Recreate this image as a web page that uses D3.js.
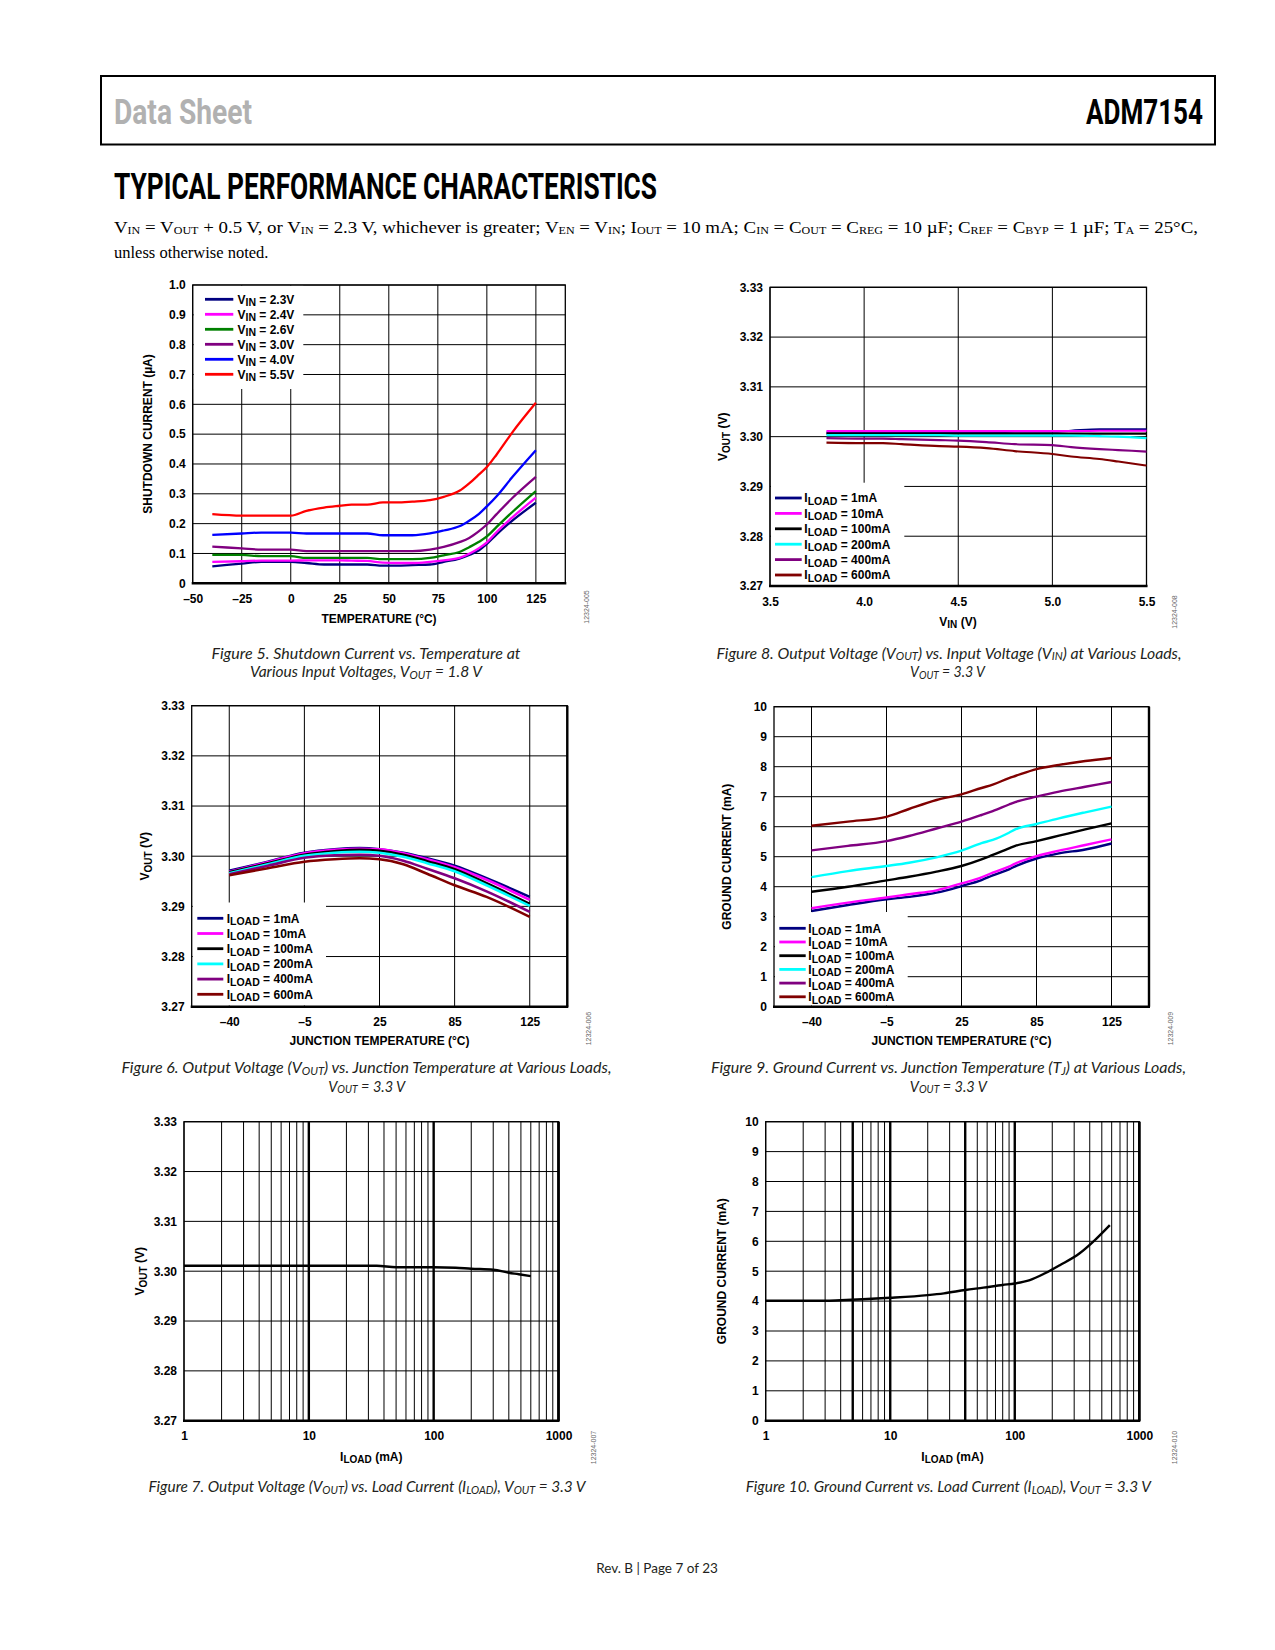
<!DOCTYPE html>
<html>
<head>
<meta charset="utf-8">
<script src="https://cdn.jsdelivr.net/npm/d3@7"></script>
<style>
  body { margin: 0; background: #fff; }
  svg { display: block; }
</style>
</head>
<body>
<svg id="page" width="1275" height="1650"></svg>
<script>
// ---------- data ----------

// Figure 5: shutdown current vs temperature
const vinLabels = ["V_{IN} = 2.3V", "V_{IN} = 2.4V", "V_{IN} = 2.6V", "V_{IN} = 3.0V", "V_{IN} = 4.0V", "V_{IN} = 5.5V"];
const vinColors = ["#000080", "#ff00ff", "#008000", "#800080", "#0000ff", "#ff0000"];
const temp5 = [-40, -25, -15, 0, 8, 17, 25, 31, 39, 47, 54, 62, 71, 78, 86, 91, 96, 100, 105, 113, 125];
const isd23 = [.057, .066, .072, .072, .068, .063, .063, .063, .063, .059, .059, .061, .063, .072, .083, .095, .111, .132, .164, .210, .270];
const isd24 = [.072, .074, .076, .076, .077, .077, .077, .076, .075, .069, .068, .068, .072, .077, .085, .099, .118, .137, .172, .221, .287];
const isd26 = [.095, .095, .091, .091, .085, .085, .085, .085, .085, .081, .081, .081, .085, .094, .105, .121, .139, .157, .189, .239, .309];
const isd30 = [.123, .117, .113, .113, .108, .108, .108, .108, .108, .108, .108, .108, .113, .122, .138, .152, .175, .197, .232, .286, .357];
const isd40 = [.162, .167, .170, .170, .167, .167, .167, .167, .167, .161, .161, .161, .167, .177, .191, .210, .233, .258, .292, .356, .446];
const isd55 = [.232, .227, .227, .227, .243, .254, .260, .264, .264, .271, .271, .274, .279, .290, .310, .335, .365, .390, .432, .506, .605];
const tempTicks5 = [-50, -25, 0, 25, 50, 75, 100, 125];
const isdTicks = [0, 0.1, 0.2, 0.3, 0.4, 0.5, 0.6, 0.7, 0.8, 0.9, 1.0];

// load legend shared by figures 6, 8, 9
const loadLabels = ["I_{LOAD} = 1mA", "I_{LOAD} = 10mA", "I_{LOAD} = 100mA", "I_{LOAD} = 200mA", "I_{LOAD} = 400mA", "I_{LOAD} = 600mA"];
const loadColors = ["#000080", "#ff00ff", "#000000", "#00ffff", "#800080", "#800000"];
const voutTicks = [3.27, 3.28, 3.29, 3.30, 3.31, 3.32, 3.33];

// Figure 8: VOUT vs VIN
const vin8 = [3.8, 4.0, 4.1, 4.2, 4.4, 4.5, 4.65, 4.8, 5.0, 5.1, 5.25, 5.35, 5.5];
const vout8_1 = [3.3008, 3.3008, 3.3008, 3.3008, 3.3009, 3.3009, 3.3009, 3.3010, 3.3010, 3.3012, 3.3015, 3.3015, 3.3015];
const vout8_10 = [3.3011, 3.3011, 3.3011, 3.3011, 3.3011, 3.3011, 3.3011, 3.3011, 3.3011, 3.3011, 3.3012, 3.3012, 3.3012];
const vout8_100 = [3.3006, 3.3006, 3.3006, 3.3006, 3.3006, 3.3006, 3.3006, 3.3006, 3.3006, 3.3006, 3.3006, 3.3006, 3.3006];
const vout8_200 = [3.3003, 3.3003, 3.3003, 3.3003, 3.3003, 3.3002, 3.3002, 3.3002, 3.3002, 3.3002, 3.3001, 3.3000, 3.2997];
const vout8_400 = [3.2997, 3.2996, 3.2996, 3.2995, 3.2993, 3.2992, 3.2989, 3.2985, 3.2983, 3.2979, 3.2975, 3.2973, 3.2970];
const vout8_600 = [3.2988, 3.2987, 3.2987, 3.2985, 3.2981, 3.2980, 3.2977, 3.2971, 3.2965, 3.2960, 3.2955, 3.2950, 3.2942];
const vinTicks = [3.5, 4.0, 4.5, 5.0, 5.5];

// Figure 6: VOUT vs junction temperature
const juncTicks = [-40, -5, 25, 85, 125];
const temp6 = [-40, -22, -5, 7, 17, 25, 44, 63, 85, 102, 125];
const vout6_1 = [3.2971, 3.2989, 3.3007, 3.3014, 3.3016, 3.3014, 3.3007, 3.2996, 3.2981, 3.2956, 3.2919];
const vout6_10 = [3.2969, 3.2988, 3.3006, 3.3013, 3.3015, 3.3014, 3.3006, 3.2994, 3.2978, 3.2953, 3.2913];
const vout6_100 = [3.2968, 3.2986, 3.3003, 3.3010, 3.3013, 3.3011, 3.3003, 3.2990, 3.2974, 3.2946, 3.2905];
const vout6_200 = [3.2966, 3.2984, 3.3001, 3.3007, 3.3009, 3.3007, 3.2999, 3.2986, 3.2970, 3.2942, 3.2901];
const vout6_400 = [3.2964, 3.2981, 3.2997, 3.3002, 3.3003, 3.3001, 3.2991, 3.2975, 3.2956, 3.2930, 3.2889];
const vout6_600 = [3.2962, 3.2976, 3.2989, 3.2994, 3.2996, 3.2994, 3.2984, 3.2965, 3.2942, 3.2919, 3.2879];

// Figure 9: ground current vs junction temperature
const temp9 = [-40, -23, -5, 4, 15, 25, 41, 50, 63, 68, 85, 97, 111, 125];
const ignd9_1 = [3.19, 3.39, 3.58, 3.66, 3.80, 4.02, 4.22, 4.38, 4.58, 4.68, 4.94, 5.11, 5.24, 5.44];
const ignd9_10 = [3.28, 3.47, 3.64, 3.75, 3.88, 4.11, 4.31, 4.47, 4.67, 4.77, 5.02, 5.20, 5.39, 5.58];
const ignd9_100 = [3.83, 4.00, 4.21, 4.33, 4.50, 4.69, 4.91, 5.06, 5.28, 5.36, 5.52, 5.70, 5.91, 6.11];
const ignd9_200 = [4.32, 4.52, 4.69, 4.80, 4.98, 5.20, 5.45, 5.56, 5.80, 5.91, 6.09, 6.28, 6.48, 6.67];
const ignd9_400 = [5.21, 5.36, 5.52, 5.69, 5.94, 6.17, 6.39, 6.52, 6.74, 6.82, 7.00, 7.17, 7.33, 7.49];
const ignd9_600 = [6.03, 6.17, 6.33, 6.59, 6.89, 7.08, 7.29, 7.40, 7.62, 7.69, 7.92, 8.06, 8.19, 8.29];
const gndTicks = [0, 1, 2, 3, 4, 5, 6, 7, 8, 9, 10];

// Figure 7: VOUT vs load current
const load7 = [1, 10, 35, 50, 100, 150, 200, 300, 400, 480, 600];
const vout7 = [3.3011, 3.3011, 3.3011, 3.3008, 3.3008, 3.3007, 3.3005, 3.3003, 3.2997, 3.2994, 3.2990];

// Figure 10: ground current vs load current
const load10 = [1, 3, 4, 6, 10, 20, 27, 40, 56, 80, 100, 132, 175, 230, 330, 440, 580];
const ignd10 = [4.01, 4.01, 4.03, 4.06, 4.11, 4.20, 4.26, 4.37, 4.45, 4.54, 4.59, 4.70, 4.93, 5.20, 5.59, 6.04, 6.54];
const loadTicks = [1, 10, 100, 1000];

// ---------- drawing ----------
const FONT = "'Liberation Sans', Arial, sans-serif";
const svg = d3.select("#page");
svg.append("rect").attr("width", 1275).attr("height", 1650).attr("fill", "#fff");

// text with _{sub} pieces
function rich(text, str, subSize, subDy) {
  const parts = str.split(/(_\{[^}]*\})/).filter((s) => s.length);
  let shifted = false;
  parts.forEach((p) => {
    if (p.startsWith("_{")) {
      text.append("tspan").attr("font-size", subSize).attr("dy", subDy).text(p.slice(2, -1));
      shifted = true;
    } else {
      const t = text.append("tspan").text(p);
      if (shifted) t.attr("dy", -subDy);
      shifted = false;
    }
  });
  return text;
}

const tempFmt = (d) => (d < 0 ? "\u2013" + Math.abs(d) : String(d));

function drawChart(c) {
  const g = svg.append("g");
  const { x, y, left, right, top, bottom } = c;

  // grid
  g.append("g")
    .selectAll("line")
    .data(c.xGrid)
    .join("line")
    .attr("x1", (d) => x(d))
    .attr("x2", (d) => x(d))
    .attr("y1", top)
    .attr("y2", bottom)
    .attr("stroke", "#000")
    .attr("stroke-width", (d) => (c.thickGrid && c.thickGrid.includes(d) ? 2.4 : 1));
  g.append("g")
    .selectAll("line")
    .data(c.yTicks)
    .join("line")
    .attr("x1", left)
    .attr("x2", right)
    .attr("y1", (d) => y(d))
    .attr("y2", (d) => y(d))
    .attr("stroke", "#000")
    .attr("stroke-width", 1);

  // legend background hides the grid
  if (c.legend) {
    const L = c.legend;
    g.append("rect")
      .attr("x", left + 1)
      .attr("y", L.top)
      .attr("width", L.right - left - 1)
      .attr("height", L.bottom - L.top)
      .attr("fill", "#fff");
  }

  // frame
  g.append("rect")
    .attr("x", left)
    .attr("y", top)
    .attr("width", right - left)
    .attr("height", bottom - top)
    .attr("fill", "none")
    .attr("stroke", "#000")
    .attr("stroke-width", 1.3);
  g.append("line")
    .attr("x1", left - 1)
    .attr("x2", right + 1)
    .attr("y1", bottom)
    .attr("y2", bottom)
    .attr("stroke", "#000")
    .attr("stroke-width", 2.6);
  if (c.thickRight) {
    g.append("line")
      .attr("x1", right)
      .attr("x2", right)
      .attr("y1", top)
      .attr("y2", bottom)
      .attr("stroke", "#000")
      .attr("stroke-width", 2.4);
  }

  // curves
  const line = d3
    .line()
    .x((d) => x(d[0]))
    .y((d) => y(d[1]))
    .curve(d3.curveMonotoneX);
  g.append("g")
    .selectAll("path")
    .data(c.series)
    .join("path")
    .attr("d", (s) => line(d3.zip(s.xs, s.ys)))
    .attr("fill", "none")
    .attr("stroke", (s) => s.color)
    .attr("stroke-width", c.lineWidth || 2.3)
    .attr("stroke-linejoin", "round");

  // legend entries
  if (c.legend) {
    const L = c.legend;
    const rows = g
      .append("g")
      .selectAll("g")
      .data(c.series)
      .join("g")
      .attr("transform", (s, i) => `translate(0,${L.row0 + i * L.step})`);
    rows
      .append("line")
      .attr("x1", L.lineX0)
      .attr("x2", L.lineX1)
      .attr("stroke", (s) => s.color)
      .attr("stroke-width", 2.8);
    rows.each(function (s) {
      const t = d3
        .select(this)
        .append("text")
        .attr("x", L.textX)
        .attr("y", 4.3)
        .attr("font-family", FONT)
        .attr("font-weight", "bold")
        .attr("font-size", 12)
        .attr("fill", "#000");
      rich(t, s.label, 10.5, 2.6);
    });
  }

  // axes (labels only)
  const styleAxis = (a) => {
    a.select(".domain").remove();
    a.attr("font-family", FONT).attr("font-size", 12).attr("font-weight", "bold");
    a.selectAll("text").attr("fill", "#000");
  };
  g.append("g")
    .attr("transform", `translate(0,${bottom})`)
    .call(d3.axisBottom(x).tickValues(c.xTicks).tickFormat(c.xFmt).tickSize(0).tickPadding(11))
    .call(styleAxis);
  g.append("g")
    .attr("transform", `translate(${left},0)`)
    .call(d3.axisLeft(y).tickValues(c.yTicks).tickFormat(c.yFmt).tickSize(0).tickPadding(7))
    .call(styleAxis);

  // axis titles
  const xt = g
    .append("text")
    .attr("x", c.xTitle.x)
    .attr("y", c.xTitle.y)
    .attr("text-anchor", "middle")
    .attr("font-family", FONT)
    .attr("font-weight", "bold")
    .attr("font-size", 12);
  rich(xt, c.xTitle.text, 10, 2.6);
  const yt = g
    .append("text")
    .attr("transform", `translate(${c.yTitle.x},${c.yTitle.y}) rotate(-90)`)
    .attr("dy", "0.35em")
    .attr("text-anchor", "middle")
    .attr("font-family", FONT)
    .attr("font-weight", "bold")
    .attr("font-size", 12);
  rich(yt, c.yTitle.text, 10, 2.6);

  // small figure id on the right
  g.append("text")
    .attr("transform", `translate(${c.id.x},${c.id.y}) rotate(-90)`)
    .attr("text-anchor", "middle")
    .attr("dy", "0.35em")
    .attr("font-family", FONT)
    .attr("font-size", 7)
    .attr("fill", "#666")
    .text(c.id.text);

  // caption lines
  c.caption.forEach((cap) => {
    const t = g
      .append("text")
      .attr("x", cap.cx - cap.len / 2)
      .attr("y", cap.y)
      .attr("font-family", "Lato, 'Open Sans', sans-serif")
      .attr("font-style", "italic")
      .attr("font-size", 15.5)
      .attr("fill", "#231f20")
      .attr("textLength", cap.len)
      .attr("lengthAdjust", "spacingAndGlyphs");
    rich(t, cap.text, 11, 1.5);
  });
}

// ---------- page header ----------
svg.append("rect")
  .attr("x", 101).attr("y", 76).attr("width", 1114).attr("height", 68.5)
  .attr("fill", "none").attr("stroke", "#000").attr("stroke-width", 2);
svg.append("text")
  .attr("x", 114).attr("y", 123.5)
  .attr("font-family", "Roboto, sans-serif").attr("font-weight", 700).attr("font-size", 35)
  .attr("fill", "#b1b1b1").attr("textLength", 138).attr("lengthAdjust", "spacingAndGlyphs")
  .text("Data Sheet");
svg.append("text")
  .attr("x", 1086).attr("y", 123.5)
  .attr("font-family", "Roboto, sans-serif").attr("font-weight", 700).attr("font-size", 35)
  .attr("fill", "#000").attr("textLength", 117).attr("lengthAdjust", "spacingAndGlyphs")
  .text("ADM7154");
svg.append("text")
  .attr("x", 114).attr("y", 199)
  .attr("font-family", "Roboto, sans-serif").attr("font-weight", 700).attr("font-size", 37)
  .attr("fill", "#000").attr("textLength", 543).attr("lengthAdjust", "spacingAndGlyphs")
  .text("TYPICAL PERFORMANCE CHARACTERISTICS");
const cond1 = svg.append("text")
  .attr("x", 114).attr("y", 233)
  .attr("font-family", "'Liberation Serif', 'Times New Roman', serif").attr("font-size", 16.5)
  .attr("fill", "#000").attr("textLength", 1084).attr("lengthAdjust", "spacingAndGlyphs");
rich(cond1, "V_{IN} = V_{OUT} + 0.5 V, or V_{IN} = 2.3 V, whichever is greater; V_{EN} = V_{IN}; I_{OUT} = 10 mA; C_{IN} = C_{OUT} = C_{REG} = 10 \u00b5F; C_{REF} = C_{BYP} = 1 \u00b5F; T_{A} = 25\u00b0C,", 10.5, 1.2);
svg.append("text")
  .attr("x", 114).attr("y", 258)
  .attr("font-family", "'Liberation Serif', 'Times New Roman', serif").attr("font-size", 16.5)
  .attr("fill", "#000")
  .text("unless otherwise noted.");

// ---------- Figure 5 ----------
drawChart({
  left: 192.7, right: 565.3, top: 285, bottom: 583.3,
  x: d3.scaleLinear().domain([-50, 140]).range([192.7, 565.3]),
  y: d3.scaleLinear().domain([0, 1]).range([583.3, 285]),
  xTicks: tempTicks5, xGrid: tempTicks5, xFmt: tempFmt,
  yTicks: isdTicks, yFmt: (d) => (d === 0 ? "0" : d3.format(".1f")(d)),
  series: [isd23, isd24, isd26, isd30, isd40, isd55].map((ys, i) => ({
    xs: temp5, ys, color: vinColors[i], label: vinLabels[i]
  })),
  legend: { top: 285.7, bottom: 389, right: 303.3, row0: 299.3, step: 15, lineX0: 205, lineX1: 233.3, textX: 237.5 },
  xTitle: { text: "TEMPERATURE (\u00b0C)", x: 379, y: 622.5 },
  yTitle: { text: "SHUTDOWN CURRENT (\u00b5A)", x: 147.3, y: 434 },
  id: { text: "12324-005", x: 587, y: 607 },
  caption: [
    { text: "Figure 5. Shutdown Current vs. Temperature at", cx: 366, y: 658.5, len: 309 },
    { text: "Various Input Voltages, V_{OUT} = 1.8 V", cx: 366, y: 677, len: 232 }
  ]
});

// ---------- Figure 8 ----------
drawChart({
  left: 770, right: 1146.5, top: 287.3, bottom: 586,
  x: d3.scaleLinear().domain([3.5, 5.5]).range([770, 1146.5]),
  y: d3.scaleLinear().domain([3.27, 3.33]).range([586, 287.3]),
  xTicks: vinTicks, xGrid: vinTicks, xFmt: d3.format(".1f"),
  yTicks: voutTicks, yFmt: d3.format(".2f"),
  lineWidth: 2.1,
  series: [vout8_1, vout8_10, vout8_100, vout8_200, vout8_400, vout8_600].map((ys, i) => ({
    xs: vin8, ys, color: loadColors[i], label: loadLabels[i]
  })),
  legend: { top: 482.7, bottom: 585, right: 904.3, row0: 498, step: 15.4, lineX0: 775, lineX1: 801.7, textX: 804.3 },
  xTitle: { text: "V_{IN} (V)", x: 958, y: 625.6 },
  yTitle: { text: "V_{OUT} (V)", x: 723, y: 436.7 },
  id: { text: "12324-008", x: 1175, y: 612 },
  caption: [
    { text: "Figure 8. Output Voltage (V_{OUT}) vs. Input Voltage (V_{IN}) at Various Loads,", cx: 949, y: 658.5, len: 465 },
    { text: "V_{OUT} = 3.3 V", cx: 947.5, y: 677, len: 75 }
  ]
});

// ---------- Figure 6 ----------
const pt6 = d3.scalePoint().domain(juncTicks).range([191.7, 567.3]).padding(0.5);
drawChart({
  left: 191.7, right: 567.3, top: 705.7, bottom: 1006.7, thickRight: true,
  x: d3.scaleLinear().domain(juncTicks).range(juncTicks.map(pt6)),
  y: d3.scaleLinear().domain([3.27, 3.33]).range([1006.7, 705.7]),
  xTicks: juncTicks, xGrid: juncTicks, xFmt: tempFmt,
  yTicks: voutTicks, yFmt: d3.format(".2f"),
  lineWidth: 2.6,
  series: [vout6_1, vout6_10, vout6_100, vout6_200, vout6_400, vout6_600].map((ys, i) => ({
    xs: temp6, ys, color: loadColors[i], label: loadLabels[i]
  })),
  legend: { top: 902.5, bottom: 1005.5, right: 326, row0: 918.3, step: 15.2, lineX0: 197.3, lineX1: 223.3, textX: 226.7 },
  xTitle: { text: "JUNCTION TEMPERATURE (\u00b0C)", x: 379.5, y: 1044.7 },
  yTitle: { text: "V_{OUT} (V)", x: 145, y: 856.2 },
  id: { text: "12324-006", x: 588.7, y: 1028.6 },
  caption: [
    { text: "Figure 6. Output Voltage (V_{OUT}) vs. Junction Temperature at Various Loads,", cx: 366.5, y: 1073.3, len: 490 },
    { text: "V_{OUT} = 3.3 V", cx: 366.7, y: 1091.7, len: 77 }
  ]
});

// ---------- Figure 9 ----------
const pt9 = d3.scalePoint().domain(juncTicks).range([774, 1149]).padding(0.5);
drawChart({
  left: 774, right: 1149, top: 706.7, bottom: 1006.7, thickRight: true,
  x: d3.scaleLinear().domain(juncTicks).range(juncTicks.map(pt9)),
  y: d3.scaleLinear().domain([0, 10]).range([1006.7, 706.7]),
  xTicks: juncTicks, xGrid: juncTicks, xFmt: tempFmt,
  yTicks: gndTicks, yFmt: d3.format("d"),
  lineWidth: 2.4,
  series: [ignd9_1, ignd9_10, ignd9_100, ignd9_200, ignd9_400, ignd9_600].map((ys, i) => ({
    xs: temp9, ys, color: loadColors[i], label: loadLabels[i]
  })),
  legend: { top: 912, bottom: 1005.5, right: 907.7, row0: 928.3, step: 13.7, lineX0: 779.3, lineX1: 805.7, textX: 808.3 },
  xTitle: { text: "JUNCTION TEMPERATURE (\u00b0C)", x: 961.5, y: 1044.7 },
  yTitle: { text: "GROUND CURRENT (mA)", x: 726.7, y: 856.7 },
  id: { text: "12324-009", x: 1171, y: 1028.6 },
  caption: [
    { text: "Figure 9. Ground Current vs. Junction Temperature (T_{J}) at Various Loads,", cx: 948.5, y: 1073.3, len: 475 },
    { text: "V_{OUT} = 3.3 V", cx: 948.3, y: 1091.7, len: 77 }
  ]
});

// ---------- Figure 7 ----------
const x7 = d3.scaleLog().domain([1, 1000]).range([184, 558.5]);
drawChart({
  left: 184, right: 558.5, top: 1121.7, bottom: 1420.7, thickRight: true,
  x: x7,
  y: d3.scaleLinear().domain([3.27, 3.33]).range([1420.7, 1121.7]),
  xTicks: loadTicks, xGrid: x7.ticks(), thickGrid: [10, 100, 1000], xFmt: d3.format("d"),
  yTicks: voutTicks, yFmt: d3.format(".2f"),
  lineWidth: 2.4,
  series: [{ xs: load7, ys: vout7, color: "#000" }],
  xTitle: { text: "I_{LOAD} (mA)", x: 371.3, y: 1460.6 },
  yTitle: { text: "V_{OUT} (V)", x: 140, y: 1271.2 },
  id: { text: "12324-007", x: 594, y: 1447.5 },
  caption: [
    { text: "Figure 7. Output Voltage (V_{OUT}) vs. Load Current (I_{LOAD}), V_{OUT} = 3.3 V", cx: 367, y: 1492, len: 437 }
  ]
});

// ---------- Figure 10 ----------
const x10 = d3.scaleLog().domain([1, 1000]).range([765.7, 1139.3]);
drawChart({
  left: 765.7, right: 1139.3, top: 1121.7, bottom: 1420.7, thickRight: true,
  x: x10,
  y: d3.scaleLinear().domain([0, 10]).range([1420.7, 1121.7]),
  xTicks: loadTicks, xGrid: x10.ticks(), thickGrid: [5, 10, 40, 100, 1000], xFmt: d3.format("d"),
  yTicks: gndTicks, yFmt: d3.format("d"),
  lineWidth: 2.4,
  series: [{ xs: load10, ys: ignd10, color: "#000" }],
  xTitle: { text: "I_{LOAD} (mA)", x: 952.5, y: 1460.6 },
  yTitle: { text: "GROUND CURRENT (mA)", x: 721.7, y: 1271.2 },
  id: { text: "12324-010", x: 1175, y: 1447.5 },
  caption: [
    { text: "Figure 10. Ground Current vs. Load Current (I_{LOAD}), V_{OUT} = 3.3 V", cx: 948.3, y: 1492, len: 405 }
  ]
});

// ---------- footer ----------
svg.append("text")
  .attr("x", 657).attr("y", 1573)
  .attr("text-anchor", "middle")
  .attr("font-family", "Lato, 'Open Sans', sans-serif").attr("font-size", 13.5)
  .attr("fill", "#231f20")
  .text("Rev. B | Page 7 of 23");
</script>
</body>
</html>
